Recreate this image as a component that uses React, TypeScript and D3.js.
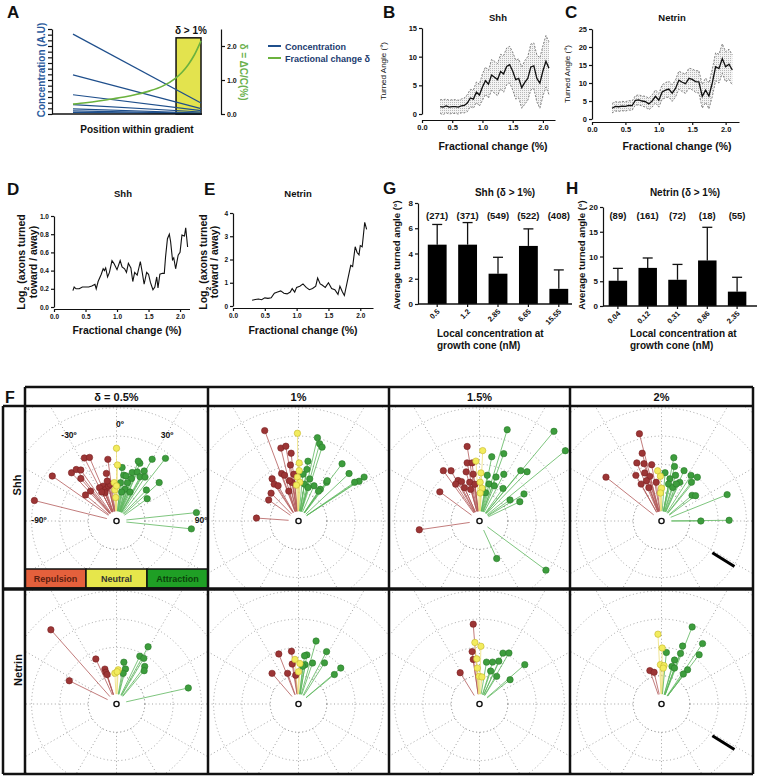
import React, { useEffect, useRef } from 'react'
import * as d3 from 'd3'

const FONT = '"Liberation Sans", Arial, Helvetica, sans-serif'

// ---- A: gradient sketch
const gradConcStart = [14.1, 6.9, 3.4, 1.65, 0.9, 0.55, 0.28]
const gradConcEnd = [1.95, 0.95, 0.6, 0.35, 0.18, 0.1, 0.05]
const gradDeltaPos = [0, 0.1, 0.2, 0.3, 0.4, 0.5, 0.6, 0.7, 0.8, 0.85, 0.9, 0.95, 1]
const gradDeltaVal = [0.29, 0.33, 0.38, 0.44, 0.5, 0.58, 0.68, 0.82, 1.05, 1.22, 1.45, 1.75, 2.15]
const deltaTicks = [0, 1, 2]

// ---- B, C: turned angle vs fractional change (mean and band)
const fracX = [0.3, 0.35, 0.4, 0.45, 0.5, 0.55, 0.6, 0.65, 0.7, 0.75, 0.8, 0.85, 0.9, 0.95, 1.0, 1.05, 1.1, 1.15, 1.2, 1.25,
  1.3, 1.35, 1.4, 1.45, 1.5, 1.55, 1.6, 1.65, 1.7, 1.75, 1.8, 1.85, 1.9, 1.95, 2.0, 2.05, 2.1]
const shhMean = [1.3, 1.2, 1.4, 1.2, 1.3, 1.3, 1.2, 1.4, 1.5, 1.9, 2.8, 2.6, 3.8, 3.3, 4.7, 5.8, 5.2, 6.8, 6.4, 6.0,
  7.4, 7.0, 8.3, 8.6, 7.5, 6.0, 6.2, 4.6, 5.5, 6.2, 8.2, 8.4, 6.2, 5.4, 7.5, 9.2, 8.0]
const shhUpper = [2.5, 2.5, 2.6, 2.4, 2.5, 2.5, 2.4, 2.6, 2.8, 3.4, 4.3, 4.2, 5.6, 5.2, 7.0, 8.2, 7.6, 9.5, 9.2, 8.8,
  10.4, 10.2, 11.5, 11.8, 10.8, 9.4, 9.6, 8.2, 9.3, 10.0, 12.2, 12.4, 10.3, 9.8, 11.9, 13.7, 12.6]
const shhLower = [0.1, -0.1, 0.2, 0.0, 0.1, 0.1, 0.0, 0.2, 0.2, 0.4, 1.3, 1.0, 2.0, 1.4, 2.4, 3.4, 2.8, 4.1, 3.6, 3.2,
  4.4, 3.8, 5.1, 5.4, 4.2, 2.6, 2.8, 1.0, 1.7, 2.4, 4.2, 4.4, 2.1, 1.0, 3.1, 4.7, 3.4]
const netMean = [3.0, 3.5, 3.4, 3.6, 3.5, 3.8, 3.7, 5.2, 5.3, 5.0, 4.8, 4.2, 5.0, 6.3, 5.2, 7.5, 8.0, 8.3, 7.2, 8.5,
  10.8, 10.2, 9.8, 11.3, 11.0, 10.4, 10.3, 6.3, 8.0, 6.4, 10.0, 14.5, 14.0, 16.8, 14.5, 15.2, 13.6]
const netUpper = [4.3, 4.8, 4.7, 4.9, 4.8, 5.1, 5.0, 6.5, 6.7, 6.4, 6.3, 5.8, 6.7, 8.1, 7.1, 9.5, 10.1, 10.5, 9.5, 10.9,
  13.3, 12.8, 12.5, 14.1, 13.9, 13.4, 13.4, 9.6, 11.4, 10.0, 13.8, 18.4, 18.0, 20.9, 18.7, 19.4, 17.8]
const netLower = [1.7, 2.2, 2.1, 2.3, 2.2, 2.5, 2.4, 3.9, 3.9, 3.6, 3.3, 2.6, 3.3, 4.5, 3.3, 5.5, 5.9, 6.1, 4.9, 6.1,
  8.3, 7.6, 7.1, 8.5, 8.1, 7.4, 7.2, 3.0, 4.6, 2.8, 6.2, 10.6, 10.0, 12.7, 10.3, 11.0, 9.4]
const fracTicks = [0, 0.5, 1, 1.5, 2]

// ---- D, E: log2 ratio toward / away
const shhRatioX = [0.3, 0.32, 0.35, 0.4, 0.45, 0.5, 0.55, 0.6, 0.65, 0.67, 0.7, 0.75, 0.78, 0.8, 0.82, 0.85, 0.88, 0.92, 0.95, 1.0,
  1.05, 1.08, 1.12, 1.15, 1.18, 1.22, 1.25, 1.28, 1.32, 1.37, 1.4, 1.43, 1.47, 1.5, 1.53, 1.57, 1.6, 1.63, 1.65, 1.68,
  1.72, 1.75, 1.77, 1.8, 1.83, 1.85, 1.88, 1.9, 1.93, 1.97, 2.0, 2.03, 2.07, 2.09, 2.12]
const shhRatio = [0.18, 0.22, 0.2, 0.2, 0.22, 0.22, 0.22, 0.23, 0.25, 0.2, 0.28, 0.36, 0.42, 0.4, 0.43, 0.33, 0.38, 0.51, 0.48, 0.41,
  0.51, 0.44, 0.42, 0.38, 0.48, 0.43, 0.28, 0.38, 0.35, 0.5, 0.38, 0.25, 0.38, 0.36, 0.27, 0.19, 0.22, 0.33, 0.21, 0.36,
  0.37, 0.37, 0.55, 0.75, 0.8, 0.72, 0.52, 0.54, 0.42, 0.57, 0.6, 0.79, 0.78, 0.87, 0.66]
const netRatioX = [0.3, 0.35, 0.4, 0.45, 0.5, 0.55, 0.6, 0.65, 0.7, 0.75, 0.8, 0.85, 0.9, 0.93, 0.97, 1.0, 1.05, 1.1, 1.15, 1.2,
  1.25, 1.3, 1.33, 1.37, 1.4, 1.45, 1.5, 1.55, 1.6, 1.65, 1.68, 1.72, 1.75, 1.8, 1.85, 1.88, 1.92, 1.95, 1.98, 2.0,
  2.03, 2.07, 2.1]
const netRatio = [0.25, 0.28, 0.3, 0.27, 0.35, 0.33, 0.35, 0.55, 0.6, 0.65, 0.55, 0.52, 0.6, 0.75, 0.6, 0.8, 0.85, 0.95, 0.8, 0.7,
  0.75, 0.85, 1.2, 0.95, 0.9, 0.8, 1.0, 0.75, 0.7, 0.5, 0.85, 0.6, 0.45, 1.1, 1.75, 1.7, 2.55, 2.3, 2.2, 2.6,
  2.55, 3.6, 3.3]

// ---- G, H: average turned angle by local concentration
const shhConc = ['0.5', '1.2', '2.85', '6.65', '15.55']
const shhAvg = [4.7, 4.7, 2.4, 4.6, 1.2]
const shhErr = [6.3, 6.45, 3.7, 5.95, 2.7]
const shhN = ['(271)', '(371)', '(549)', '(522)', '(408)']
const netConc = ['0.04', '0.12', '0.31', '0.86', '2.35']
const netAvg = [5.1, 7.7, 5.3, 9.2, 2.9]
const netErr = [7.6, 9.7, 8.4, 15.9, 5.8]
const netN = ['(89)', '(161)', '(72)', '(18)', '(55)']

// ---- F: polar plots, [class, turned angle (deg), distance (ring units)]
type P = [string, number, number]
const shh05: P[] = [
  ['R', -76, 2.99], ['R', -55, 2.77], ['R', -43, 2.33], ['R', -38, 2.31], ['R', -35, 2.2], ['R', -40, 1.96], ['R', -27, 2.5],
  ['R', -23, 2.44], ['R', -8, 2.2], ['R', -12, 1.72], ['R', -50, 1.43], ['R', -41, 1.4], ['R', -21, 1.32], ['R', -19, 1.18],
  ['R', -13, 1.27], ['R', -22, 1.08], ['R', -10, 1.32], ['R', -27, 1.32], ['R', -27, 1.15], ['R', -13, 1.45],
  ['N', 0, 2.57], ['N', 1, 1.98], ['N', -3.5, 1.36], ['N', -3, 1.1], ['N', -2, 0.83], ['N', 0, 1.24],
  ['A', 30, 2.52], ['A', 38, 2.81], ['A', 22, 2.2], ['A', 20, 2.25], ['A', 6, 1.9], ['A', 9, 1.64], ['A', 12, 1.63], ['A', 18, 1.8],
  ['A', 23, 1.88], ['A', 29, 2.02], ['A', 28, 1.77], ['A', 33, 1.85], ['A', 19.5, 1.59], ['A', 16, 1.41], ['A', 6, 1.36],
  ['A', 48, 2.03], ['A', 44, 1.52], ['A', 54, 1.34], ['A', 15, 1.16], ['A', 25, 1.13], ['A', 10, 1.04], ['A', 84, 2.84], ['A', 96, 2.66],
]
const shh1: P[] = [
  ['R', -20.5, 3.41], ['R', -86, 1.49], ['R', -13.6, 2.65], ['R', -9.6, 2.68], ['R', -6.2, 2.41], ['R', -8.2, 2.0], ['R', -19.6, 1.78],
  ['R', -32, 1.76], ['R', -33.4, 1.56], ['R', -30, 1.44], ['R', -44.6, 1.38], ['R', -54.8, 1.29], ['R', -18, 1.11], ['R', -9.3, 1.38],
  ['R', -17, 1.69], ['R', -5.6, 1.66], ['R', -12.7, 1.46],
  ['N', -0.7, 3.1], ['N', 0.7, 2.05], ['N', 0.8, 1.78], ['N', -1.4, 1.55], ['N', 2, 1.37], ['N', -3.3, 1.27],
  ['A', 12.8, 3.02], ['A', 15.3, 2.83], ['A', 17.7, 2.74], ['A', 37.3, 2.54], ['A', 46.8, 2.45], ['A', 56.2, 2.79], ['A', 56.7, 2.56],
  ['A', 55.4, 2.41], ['A', 36, 1.69], ['A', 34.6, 1.36], ['A', 9, 2.14], ['A', 9.3, 1.85], ['A', 5.2, 1.66], ['A', 14.9, 1.54],
  ['A', 9.2, 1.32], ['A', 23.8, 1.36], ['A', 15.9, 1.23], ['A', 33.8, 1.27], ['A', 35.5, 1.75],
]
const shh15: P[] = [
  ['R', -98.3, 2.15], ['R', -53.7, 1.74], ['R', -35.7, 2.19], ['R', -29.5, 2.04], ['R', -27.9, 1.62], ['R', -32.9, 1.55],
  ['R', -24.5, 1.53], ['R', -9.4, 2.67], ['R', -12, 2.1], ['R', -7.3, 2.07], ['R', -15.2, 1.8], ['R', -14.2, 1.41], ['R', -15.6, 1.16],
  ['R', -24.3, 1.29], ['R', -7.1, 1.31], ['R', -7.7, 1.67],
  ['N', 2.6, 2.49], ['N', -3.4, 2.12], ['N', 1.7, 1.7], ['N', 1, 1.37], ['N', 4.3, 1.16], ['N', 1.4, 0.99],
  ['A', 16.9, 3.37], ['A', 39.7, 4.12], ['A', 50.7, 3.92], ['A', 19.8, 2.53], ['A', 10.8, 2.31], ['A', 39.3, 2.3], ['A', 44, 2.42],
  ['A', 27.5, 1.86], ['A', 20.6, 1.66], ['A', 9.6, 1.64], ['A', 14.4, 1.35], ['A', 22.8, 1.35], ['A', 35.8, 1.42], ['A', 55.4, 1.31],
  ['A', 64.4, 1.58], ['A', 58.7, 1.84], ['A', 12, 1.02], ['A', 155.4, 1.46], ['A', 126.5, 2.92],
]
const shh2: P[] = [
  ['R', -51.7, 2.5], ['R', -14.2, 3.18], ['R', -15.9, 2.49], ['R', -23, 2.23], ['R', -17, 2.12], ['R', -9.9, 2.02], ['R', -19.3, 1.8],
  ['R', -29.3, 1.85], ['R', -14.6, 1.63], ['R', -20.5, 1.52], ['R', -28.9, 1.49], ['R', -7.8, 1.38], ['R', -20.8, 1.26],
  ['N', -4.4, 1.78], ['N', -1.4, 1.58], ['N', 0, 1.16], ['N', -2.2, 0.99],
  ['A', 11, 2.28], ['A', 13.4, 1.98], ['A', 24.1, 1.95], ['A', 17.1, 1.69], ['A', 11.3, 1.52], ['A', 10.8, 1.33], ['A', 25.3, 1.51],
  ['A', 4.2, 1.71], ['A', 32.9, 1.92], ['A', 39.3, 2.0], ['A', 37.7, 1.73], ['A', 50, 1.41], ['A', 53.4, 1.5], ['A', 68.1, 2.5],
  ['A', 90, 1.39], ['A', 89.4, 2.39], ['A', 18.6, 1.25], ['A', 21.8, 1.41],
]
const net05: P[] = [
  ['R', -41.5, 3.5], ['R', -63.8, 1.86], ['R', -24.7, 1.75], ['R', -18.4, 1.3], ['R', -18.6, 1.18], ['R', -17.6, 1.09],
  ['N', -3.1, 1.09], ['N', 2.8, 1.21], ['N', 1.2, 1.14],
  ['A', 28.9, 2.31], ['A', 26, 1.88], ['A', 30.9, 1.88], ['A', 10, 1.5], ['A', 14.4, 1.28], ['A', 12.3, 1.11], ['A', 36.9, 1.66],
  ['A', 39.7, 1.53], ['A', 77.4, 2.6],
]
const net1: P[] = [
  ['R', -21.5, 1.9], ['R', -7.6, 1.88], ['R', -9, 1.43], ['R', -40.8, 1.43], ['R', -19.6, 1.15], ['R', -5.6, 1.02],
  ['N', -4.5, 1.58], ['N', 2, 1.43], ['N', 0, 1.14],
  ['A', 15.6, 2.31], ['A', 9.7, 1.76], ['A', 7.1, 1.72], ['A', 28.2, 2.1], ['A', 32.3, 1.72], ['A', 18.9, 1.53], ['A', 9.6, 1.41],
  ['A', 6.4, 1.34], ['A', 49.6, 1.96], ['A', 50.6, 1.64],
]
const net15: P[] = [
  ['R', -4.5, 2.83], ['R', -8, 1.87], ['R', -8, 1.59], ['R', -31.7, 1.3],
  ['N', -4.3, 2.18], ['N', 1.4, 2.04], ['N', -3.5, 1.6], ['N', -3.4, 1.27], ['N', -0.8, 0.98], ['N', 5.2, 0.96],
  ['A', 9.5, 1.5], ['A', 17.3, 1.55], ['A', 24.2, 1.66], ['A', 24.8, 1.98], ['A', 30, 2.08], ['A', 18.7, 1.23], ['A', 31.8, 1.15],
  ['A', 49, 2.12], ['A', 51.5, 1.38],
]
const net2: P[] = [
  ['R', -19.2, 1.25], ['R', -13.2, 1.15],
  ['N', -2.9, 2.47], ['N', 0.7, 1.98], ['N', -1.6, 1.39], ['N', 3.7, 1.36], ['N', 2.8, 1.27],
  ['A', 21.7, 2.93], ['A', 34.2, 2.58], ['A', 20, 2.18], ['A', 20.6, 1.91], ['A', 37.4, 2.19], ['A', 5.4, 1.83], ['A', 16.5, 1.62],
  ['A', 15.6, 1.38], ['A', 19.9, 1.35], ['A', 37.3, 1.52], ['A', 36.1, 1.31],
]
const polarPanels = [shh05, shh1, shh15, shh2, net05, net1, net15, net2]
const deltaHeaders = ['δ = 0.5%', '1%', '1.5%', '2%']
const rowNames = ['Shh', 'Netrin']
const ringR = [1, 2, 3, 4, 5]
const spokeA = [0, 30, 60, 90, 120, 150, 180, 210, 240, 270, 300, 330]
const legendNames = ['Repulsion', 'Neutral', 'Attraction']

const polarColors: any = {
  R: { fill: '#9c3535', stroke: '#7a2222', line: '#b25a5a' },
  N: { fill: '#f2ec5e', stroke: '#c4b62c', line: '#eee07a' },
  A: { fill: '#3d9d3d', stroke: '#2a7a2a', line: '#5db65d' },
}
const legendFill = ['#e4603c', '#e6e64b', '#1f9f25']
const legendText = ['#5c1e10', '#333', '#0b430b']

function txt(g: any, s: string, x: number, y: number, size: number, o: any = {}) {
  const t = g.append('text')
    .attr('x', x).attr('y', y)
    .attr('font-size', size)
    .attr('font-family', FONT)
    .attr('font-weight', o.weight || 'bold')
    .attr('text-anchor', o.anchor || 'middle')
    .attr('fill', o.fill || '#111')
    .text(s)
  if (o.rotate) t.attr('transform', `rotate(${o.rotate},${x},${y})`)
  return t
}

function styleAxis(a: any, size: number) {
  a.attr('font-family', FONT).attr('font-size', size).attr('font-weight', 'bold')
  a.selectAll('path,line').attr('stroke', '#111').attr('stroke-width', 1.2)
  a.selectAll('text').attr('fill', '#111')
}

function drawA(svg: any) {
  const g = svg.append('g')
  txt(g, 'A', 7, 18, 17, { anchor: 'start' })
  const x = d3.scaleLinear().domain([0, 1]).range([73, 201])
  const yC = d3.scaleLinear().domain([0, 15]).range([114, 29])
  const yD = d3.scaleLinear().domain([0, 2.5]).range([114, 29])

  // the δ > 1% window
  g.append('rect')
    .attr('x', x(0.805)).attr('y', yD(2.24))
    .attr('width', x(1) - x(0.805)).attr('height', yD(0) - yD(2.24))
    .attr('fill', '#e3e34e').attr('stroke', '#111').attr('stroke-width', 1.5)
  txt(g, 'δ > 1%', 191, 34, 10)

  g.selectAll('line.conc')
    .data(gradConcStart)
    .join('line')
    .attr('x1', x(0)).attr('x2', x(1))
    .attr('y1', (d: number) => yC(d))
    .attr('y2', (d: number, i: number) => yC(gradConcEnd[i]))
    .attr('stroke', '#1f4f8c').attr('stroke-width', 1.2)

  const delta = d3.line<number>()
    .x((d, i) => x(gradDeltaPos[i]))
    .y(d => yD(d))
    .curve(d3.curveMonotoneX)
  g.append('path').datum(gradDeltaVal).attr('d', delta)
    .attr('fill', 'none').attr('stroke', '#6bb23e').attr('stroke-width', 1.6)

  const left = g.append('g').attr('transform', 'translate(52,0)')
    .call(d3.axisLeft(yC).tickValues(yC.ticks(15)).tickSize(4).tickSizeOuter(0).tickFormat(() => ''))
  styleAxis(left, 7)
  g.append('line').attr('x1', 52).attr('x2', 202).attr('y1', yC(0)).attr('y2', yC(0))
    .attr('stroke', '#111').attr('stroke-width', 1.3)
  const right = g.append('g').attr('transform', 'translate(221,0)')
    .call(d3.axisRight(yD).tickValues(deltaTicks).tickSize(4).tickSizeOuter(0).tickPadding(2))
  styleAxis(right, 7)

  txt(g, 'Concentration (A.U)', 45, 70, 10, { rotate: -90, fill: '#2b5a9c' })
  txt(g, 'δ = ΔC/C(%)', 240, 72, 10, { rotate: 90, fill: '#6ab04c' })
  txt(g, 'Position within gradient', 137, 133, 10)

  // legend
  g.append('line').attr('x1', 268).attr('x2', 281).attr('y1', 46).attr('y2', 46).attr('stroke', '#1f4f8c').attr('stroke-width', 2)
  g.append('line').attr('x1', 268).attr('x2', 281).attr('y1', 58).attr('y2', 58).attr('stroke', '#6bb23e').attr('stroke-width', 2)
  txt(g, 'Concentration', 285, 49.5, 9, { anchor: 'start', fill: '#1b3b6f' })
  txt(g, 'Fractional change  δ', 285, 61.5, 9, { anchor: 'start', fill: '#1b3b6f' })
}

function drawTrace(svg: any, o: any) {
  const g = svg.append('g')
  const x = d3.scaleLinear().domain(o.xDomain).range(o.xRange)
  const y = d3.scaleLinear().domain(o.yDomain).range(o.yRange)
  if (o.lo) {
    const band = d3.area<number>()
      .x(d => x(d))
      .y0((d, i) => y(o.lo[i]))
      .y1((d, i) => y(o.hi[i]))
    g.append('path').datum(o.xs).attr('d', band).attr('fill', 'url(#stipple)')
    ;[o.lo, o.hi].forEach((arr: number[]) => {
      const l = d3.line<number>().x(d => x(d)).y((d, i) => y(arr[i]))
      g.append('path').datum(o.xs).attr('d', l).attr('fill', 'none')
        .attr('stroke', '#666').attr('stroke-width', 0.8).attr('stroke-dasharray', '2,1.5')
    })
  }
  const mean = d3.line<number>().x(d => x(d)).y((d, i) => y(o.ys[i]))
  g.append('path').datum(o.xs).attr('d', mean).attr('fill', 'none')
    .attr('stroke', '#111').attr('stroke-width', o.lineW || 1.3)

  const ya = g.append('g').attr('transform', `translate(${o.xRange[0]},0)`)
    .call(d3.axisLeft(y).tickValues(o.yTicks).tickSize(3).tickSizeOuter(0).tickPadding(2).tickFormat(o.yFmt))
  styleAxis(ya, o.tickFont)
  const xa = g.append('g').attr('transform', `translate(0,${o.xAxisY})`)
    .call(d3.axisBottom(x).tickValues(fracTicks).tickSize(3).tickSizeOuter(0).tickPadding(2).tickFormat(d3.format('.1f')))
  styleAxis(xa, o.tickFont)
}

function drawBars(svg: any, o: any) {
  const g = svg.append('g')
  const x = d3.scaleBand().domain(o.cats).range(o.xRange).paddingInner(0.38).paddingOuter(0.19)
  const y = d3.scaleLinear().domain(o.yDomain).range(o.yRange)
  const c = (d: string) => (x(d) as number) + x.bandwidth() / 2

  g.selectAll('line.err').data(o.cats).join('line')
    .attr('x1', c).attr('x2', c)
    .attr('y1', (d: string, i: number) => y(o.mean[i]))
    .attr('y2', (d: string, i: number) => y(o.err[i]))
    .attr('stroke', '#111').attr('stroke-width', 1.3)
  g.selectAll('line.cap').data(o.cats).join('line')
    .attr('x1', (d: string) => c(d) - 5).attr('x2', (d: string) => c(d) + 5)
    .attr('y1', (d: string, i: number) => y(o.err[i]))
    .attr('y2', (d: string, i: number) => y(o.err[i]))
    .attr('stroke', '#111').attr('stroke-width', 1.3)
  g.selectAll('rect').data(o.cats).join('rect')
    .attr('x', (d: string) => x(d)).attr('width', x.bandwidth())
    .attr('y', (d: string, i: number) => y(o.mean[i]))
    .attr('height', (d: string, i: number) => y(0) - y(o.mean[i]))
    .attr('fill', '#000')
  o.counts.forEach((s: string, i: number) => txt(g, s, c(o.cats[i]), o.countY, 9.5))

  const ya = g.append('g').attr('transform', `translate(${o.axisX},0)`)
    .call(d3.axisLeft(y).tickValues(o.yTicks).tickSize(3).tickSizeOuter(0).tickPadding(2))
  styleAxis(ya, 8)
  g.append('line').attr('x1', o.axisX).attr('x2', o.xEnd).attr('y1', y(0)).attr('y2', y(0))
    .attr('stroke', '#111').attr('stroke-width', 1.3)
  o.cats.forEach((d: string) => {
    g.append('line').attr('x1', c(d)).attr('x2', c(d)).attr('y1', y(0)).attr('y2', y(0) + 3)
      .attr('stroke', '#111').attr('stroke-width', 1.2)
    txt(g, d, c(d) + 3, y(0) + 8, 7.5, { anchor: 'end', rotate: -45 })
  })
  txt(g, o.title, o.titleX, 196, 10)
  txt(g, 'Average turned angle (°)', o.yLabelX, 255, 9.5, { rotate: -90 })
  txt(g, 'Local concentration at', o.xAxisLabelX, 337, 10, { anchor: 'start' })
  txt(g, 'growth cone (nM)', o.xAxisLabelX, 349, 10, { anchor: 'start' })
}

function drawF(svg: any) {
  const g = svg.append('g')
  const defs = svg.select('defs')
  const unit = 28.3
  const colEdges = [25, 208, 389, 570, 753]
  const rowEdges = [406, 589, 774]
  const at = (a: number, r: number, cx: number, cy: number) => {
    const p = d3.pointRadial((a * Math.PI) / 180, r * unit)
    return [cx + p[0], cy + p[1]]
  }

  polarPanels.forEach((pts, k) => {
    const row = Math.floor(k / 4)
    const col = k % 4
    const x0 = colEdges[col], x1 = colEdges[col + 1]
    const y0 = rowEdges[row], y1 = rowEdges[row + 1]
    const cx = (x0 + x1) / 2
    const cy = y0 + 115
    defs.append('clipPath').attr('id', `pclip${k}`)
      .append('rect').attr('x', x0).attr('y', y0).attr('width', x1 - x0).attr('height', y1 - y0)
    const cg = g.append('g').attr('clip-path', `url(#pclip${k})`)

    cg.selectAll('circle.ring').data(ringR).join('circle')
      .attr('cx', cx).attr('cy', cy).attr('r', (d: number) => d * unit)
      .attr('fill', 'none').attr('stroke', (d: number) => (d === 1 ? '#6a6a6a' : '#999'))
      .attr('stroke-width', 0.9).attr('stroke-dasharray', '1,2.6')
    spokeA.forEach(a => {
      const p1 = at(a, 1, cx, cy), p2 = at(a, 6, cx, cy)
      cg.append('line').attr('x1', p1[0]).attr('y1', p1[1]).attr('x2', p2[0]).attr('y2', p2[1])
        .attr('stroke', '#999').attr('stroke-width', 0.9).attr('stroke-dasharray', '1,2.6')
    })

    pts.forEach(p => {
      const s = at(p[1], 0.35, cx, cy), e = at(p[1], p[2], cx, cy)
      cg.append('line').attr('x1', s[0]).attr('y1', s[1]).attr('x2', e[0]).attr('y2', e[1])
        .attr('stroke', polarColors[p[0]].line).attr('stroke-width', 0.8)
    })
    ;['R', 'A', 'N'].forEach(cls => {
      cg.selectAll(`circle.pt${cls}`).data(pts.filter(p => p[0] === cls)).join('circle')
        .attr('cx', (p: P) => at(p[1], p[2], cx, cy)[0])
        .attr('cy', (p: P) => at(p[1], p[2], cx, cy)[1])
        .attr('r', 3.2)
        .attr('fill', polarColors[cls].fill).attr('stroke', polarColors[cls].stroke).attr('stroke-width', 0.6)
    })
    cg.append('circle').attr('cx', cx).attr('cy', cy).attr('r', 2.6)
      .attr('fill', '#fff').attr('stroke', '#111').attr('stroke-width', 1.4)

    if (col === 3) {
      const s = at(122, 2.12, cx, cy), e = at(122, 3.04, cx, cy)
      cg.append('line').attr('x1', s[0]).attr('y1', s[1]).attr('x2', e[0]).attr('y2', e[1])
        .attr('stroke', '#000').attr('stroke-width', 3)
    }
    if (k === 0) {
      txt(g, '0º', 120, 427, 8.5)
      txt(g, '-30º', 69, 438, 8.5)
      txt(g, '30º', 167, 438, 8.5)
      txt(g, '-90º', 39, 523, 8.5)
      txt(g, '90º', 201, 523, 8.5)
      const lw = (x1 - x0) / 3
      legendNames.forEach((name, i) => {
        g.append('rect').attr('x', x0 + i * lw).attr('y', 569).attr('width', lw).attr('height', 19)
          .attr('fill', legendFill[i]).attr('stroke', '#111').attr('stroke-width', 1.5)
        txt(g, name, x0 + i * lw + lw / 2, 582, 9, { fill: legendText[i] })
      })
    }
  })

  // table frame
  const frame = (x1: number, y1: number, x2: number, y2: number, w = 2.5) =>
    g.append('line').attr('x1', x1).attr('y1', y1).attr('x2', x2).attr('y2', y2)
      .attr('stroke', '#111').attr('stroke-width', w)
  frame(25, 387, 753, 387)
  frame(3, 406, 753, 406)
  frame(3, 589, 753, 589, 3.5)
  frame(3, 774, 753, 774)
  frame(3, 406, 3, 774)
  colEdges.forEach(cx => frame(cx, 387, cx, 774))

  deltaHeaders.forEach((h, i) => txt(g, h, (colEdges[i] + colEdges[i + 1]) / 2, 401, 11))
  txt(g, rowNames[0], 21, 485, 11, { rotate: -90 })
  txt(g, rowNames[1], 22, 670, 11, { rotate: -90 })
  txt(g, 'F', 5, 403, 16, { anchor: 'start' })
}

export default function App() {
  const ref = useRef<SVGSVGElement>(null)

  useEffect(() => {
    const svg = d3.select(ref.current)
    svg.selectAll('*').remove()
    svg.append('rect').attr('width', 759).attr('height', 778).attr('fill', '#fff')
    const defs = svg.append('defs')
    const pat = defs.append('pattern').attr('id', 'stipple').attr('width', 2).attr('height', 2)
      .attr('patternUnits', 'userSpaceOnUse')
    pat.append('rect').attr('width', 2).attr('height', 2).attr('fill', '#f4f4f4')
    pat.append('rect').attr('width', 1).attr('height', 1).attr('fill', '#b8b8b8')

    drawA(svg)

    // B
    txt(svg, 'B', 383, 18, 17, { anchor: 'start' })
    txt(svg, 'Shh', 498, 21, 9.5)
    drawTrace(svg, {
      xs: fracX, ys: shhMean, lo: shhLower, hi: shhUpper,
      xDomain: [0, 2.2], xRange: [422, 555], yDomain: [0, 15], yRange: [114, 28],
      yTicks: [0, 5, 10, 15], yFmt: d3.format('d'), xAxisY: 120, tickFont: 7.5,
    })
    txt(svg, 'Turned Angle (°)', 386, 71, 8, { rotate: -90, weight: 'normal' })
    txt(svg, 'Fractional change (%)', 493, 150, 10.5)

    // C
    txt(svg, 'C', 565, 18, 17, { anchor: 'start' })
    txt(svg, 'Netrin', 672, 21, 9.5)
    drawTrace(svg, {
      xs: fracX, ys: netMean, lo: netLower, hi: netUpper,
      xDomain: [0, 2.2], xRange: [592, 739], yDomain: [0, 25], yRange: [119, 29],
      yTicks: [0, 5, 10, 15, 20, 25], yFmt: d3.format('d'), xAxisY: 122, tickFont: 7.5,
    })
    txt(svg, 'Turned Angle (°)', 570, 74, 8, { rotate: -90, weight: 'normal' })
    txt(svg, 'Fractional change (%)', 677, 150, 10.5)

    // D
    txt(svg, 'D', 7, 195, 17, { anchor: 'start' })
    txt(svg, 'Shh', 123, 197, 9.5)
    drawTrace(svg, {
      xs: shhRatioX, ys: shhRatio, lineW: 1.1,
      xDomain: [0, 2.15], xRange: [54, 189.5], yDomain: [0, 1], yRange: [307, 216],
      yTicks: [0, 0.2, 0.4, 0.6, 0.8, 1.0], yFmt: d3.format('.1f'), xAxisY: 309, tickFont: 6.5,
    })
    const dl = svg.append('text').attr('transform', 'translate(25,262) rotate(-90)')
      .attr('text-anchor', 'middle').attr('font-family', FONT).attr('font-weight', 'bold').attr('font-size', 10.5).attr('fill', '#111')
    dl.append('tspan').text('Log')
    dl.append('tspan').attr('baseline-shift', 'sub').attr('font-size', 7).text('2')
    dl.append('tspan').text(' (axons turned')
    txt(svg, 'toward / away)', 37, 262, 10.5, { rotate: -90 })
    txt(svg, 'Fractional change (%)', 127, 334, 10.5)

    // E
    txt(svg, 'E', 204, 195, 17, { anchor: 'start' })
    txt(svg, 'Netrin', 298, 197, 9.5)
    drawTrace(svg, {
      xs: netRatioX, ys: netRatio, lineW: 1.1,
      xDomain: [0, 2.2], xRange: [233, 373], yDomain: [0, 4], yRange: [306, 213],
      yTicks: [0, 1, 2, 3, 4], yFmt: d3.format('d'), xAxisY: 308, tickFont: 6.5,
    })
    const el = svg.append('text').attr('transform', 'translate(207,262) rotate(-90)')
      .attr('text-anchor', 'middle').attr('font-family', FONT).attr('font-weight', 'bold').attr('font-size', 10.5).attr('fill', '#111')
    el.append('tspan').text('Log')
    el.append('tspan').attr('baseline-shift', 'sub').attr('font-size', 7).text('2')
    el.append('tspan').text(' (axons turned')
    txt(svg, 'toward / away)', 218, 262, 10.5, { rotate: -90 })
    txt(svg, 'Fractional change (%)', 303, 334, 10.5)

    // G, H
    txt(svg, 'G', 383, 194, 17, { anchor: 'start' })
    drawBars(svg, {
      cats: shhConc, mean: shhAvg, err: shhErr, counts: shhN, title: 'Shh (δ > 1%)', titleX: 505,
      xRange: [422, 574], yDomain: [0, 8], yRange: [304, 203], yTicks: [0, 2, 4, 6, 8],
      axisX: 418, xEnd: 572, countY: 219, yLabelX: 400, xAxisLabelX: 437,
    })
    txt(svg, 'H', 566, 194, 17, { anchor: 'start' })
    drawBars(svg, {
      cats: netConc, mean: netAvg, err: netErr, counts: netN, title: 'Netrin (δ > 1%)', titleX: 685,
      xRange: [603, 752], yDomain: [0, 20], yRange: [306, 207], yTicks: [0, 5, 10, 15, 20],
      axisX: 603, xEnd: 757, countY: 219, yLabelX: 585, xAxisLabelX: 630,
    })

    drawF(svg)
  }, [])

  return (
    <svg ref={ref} width={759} height={778}
      style={{ position: 'absolute', left: 0, top: 0, display: 'block', fontFamily: FONT }} />
  )
}
